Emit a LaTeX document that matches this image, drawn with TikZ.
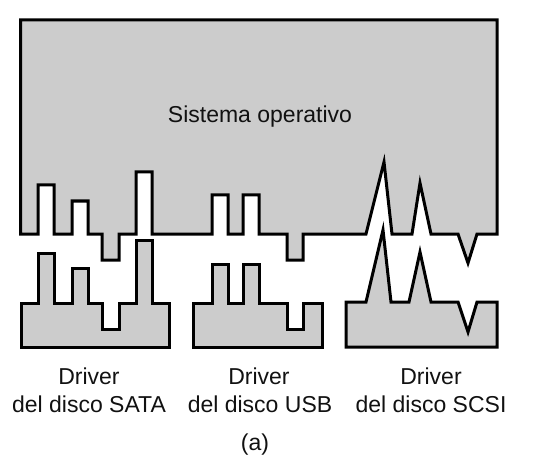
\documentclass[tikz,border=0pt]{standalone}
\usepackage{fontspec}
\setmainfont{Liberation Sans}
\definecolor{partgray}{HTML}{CCCCCC}
\definecolor{txt}{HTML}{111111}
\begin{document}
\begin{tikzpicture}[x=1pt,y=-1pt,
  part/.style={draw=black, fill=partgray, line width=3pt, line join=miter, miter limit=10},
  lbl/.style={font=\fontsize{23}{28}\selectfont, text=txt, inner sep=0pt, anchor=base}]
\useasboundingbox (0,0) rectangle (537,470);
% Sistema operativo
\draw[part] (20.5,20) -- (497,20) -- (497,234) -- (477,234) -- (468,263) -- (458,234)
  -- (431,234) -- (420,183) -- (412,234) -- (392,234) -- (384,162) -- (366,234)
  -- (303,234) -- (303,260) -- (287,260) -- (287,234) -- (259,234) -- (259,195)
  -- (243,195) -- (243,234) -- (228,234) -- (228,195) -- (212,195) -- (212,234)
  -- (152,234) -- (152,172) -- (136,172) -- (136,234) -- (119,234) -- (119,260)
  -- (102,260) -- (102,234) -- (88,234) -- (88,201) -- (72,201) -- (72,234)
  -- (54,234) -- (54,185) -- (38,185) -- (38,234) -- (20.5,234) -- cycle;
% SATA driver
\draw[part] (21,303) -- (38,303) -- (38,253) -- (54,253) -- (54,303) -- (72,303)
  -- (72,268) -- (88,268) -- (88,303) -- (102,303) -- (102,329) -- (119,329)
  -- (119,303) -- (136,303) -- (136,240) -- (152,240) -- (152,303) -- (169,303)
  -- (169,347) -- (21,347) -- cycle;
% USB driver
\draw[part] (193,303) -- (212,303) -- (212,264) -- (228,264) -- (228,303) -- (243,303)
  -- (243,264) -- (259,264) -- (259,303) -- (287,303) -- (287,329) -- (303,329)
  -- (303,303) -- (322,303) -- (322,347) -- (193,347) -- cycle;
% SCSI driver
\draw[part] (346,302) -- (366,302) -- (383,230) -- (391,302) -- (409,302) -- (420,252)
  -- (431,302) -- (458,302) -- (468,332) -- (477,302) -- (497,302) -- (497,347)
  -- (346,347) -- cycle;
% labels
\node[lbl] (os) at (260,123) {Sistema operativo};
\node[lbl] (sata1) at (89,384) {Driver};
\node[lbl] (sata2) at (89,412) {del disco SATA};
\node[lbl] (usb1) at (259,384) {Driver};
\node[lbl] (usb2) at (260,412) {del disco USB};
\node[lbl] (scsi1) at (431,384) {Driver};
\node[lbl] (scsi2) at (431,412) {del disco SCSI};
\node[lbl] (cap) at (255,450) {(a)};
\end{tikzpicture}
\end{document}
